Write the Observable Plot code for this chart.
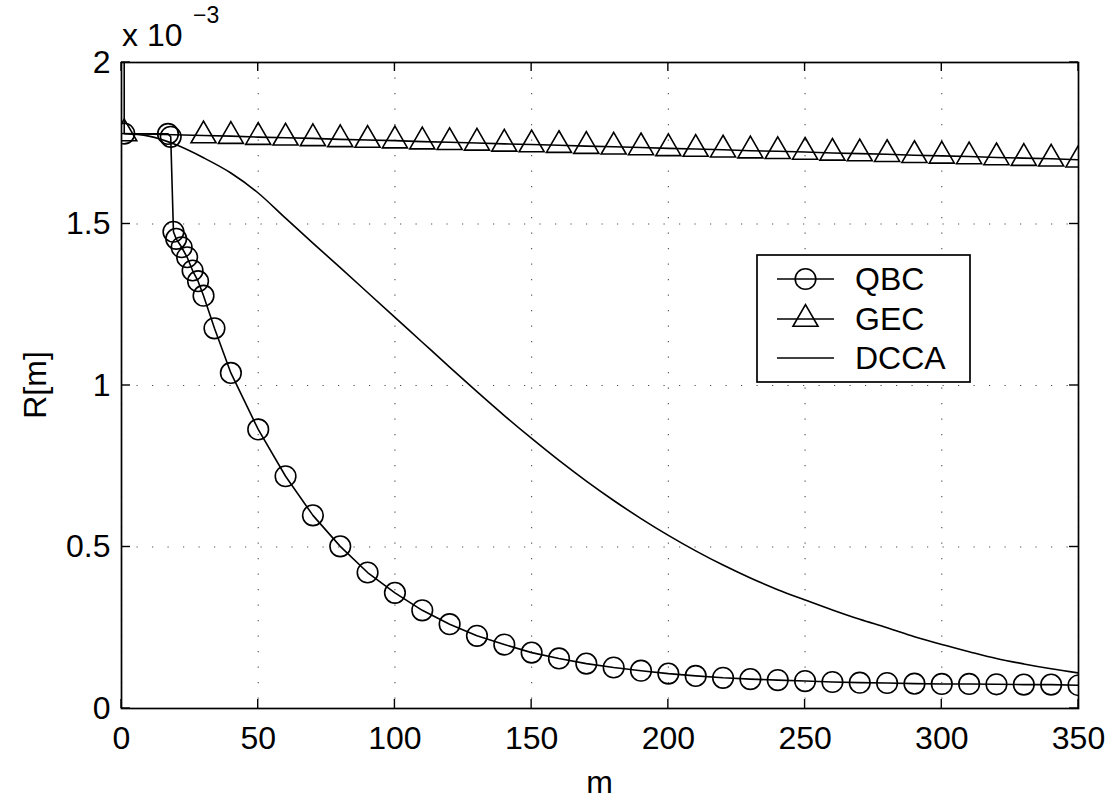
<!DOCTYPE html>
<html>
<head>
<meta charset="utf-8">
<script src="https://cdn.jsdelivr.net/npm/d3@7"></script>
<script src="https://cdn.jsdelivr.net/npm/@observablehq/plot@0.6"></script>
<style>
  html, body { margin: 0; padding: 0; background: #fff; }
  #chart { width: 1115px; height: 801px; overflow: hidden; }
</style>
</head>
<body>
<div id="chart"></div>
<script>
// ---- data (R values in units of 1e-3) ----
const qbcM = [0, 1, 17, 18, 19, 20, 22, 24, 26, 28, 30, 34, 40, 50, 60, 70, 80, 90, 100, 110, 120, 130, 140, 150, 160, 170, 180, 190, 200, 210, 220, 230, 240, 250, 260, 270, 280, 290, 300, 310, 320, 330, 340, 350];
const qbcR = [20, 1.780, 1.779, 1.770, 1.476, 1.454, 1.428, 1.397, 1.356, 1.323, 1.278, 1.177, 1.039, 0.864, 0.719, 0.598, 0.502, 0.421, 0.358, 0.304, 0.261, 0.225, 0.198, 0.173, 0.155, 0.139, 0.127, 0.117, 0.108, 0.101, 0.095, 0.091, 0.088, 0.085, 0.082, 0.080, 0.079, 0.077, 0.076, 0.076, 0.075, 0.074, 0.074, 0.072];

const gecM = [1, 30, 40, 50, 60, 70, 80, 90, 100, 110, 120, 130, 140, 150, 160, 170, 180, 190, 200, 210, 220, 230, 240, 250, 260, 270, 280, 290, 300, 310, 320, 330, 340, 350];
const gecR = [1.780, 1.774, 1.772, 1.769, 1.767, 1.765, 1.762, 1.760, 1.758, 1.755, 1.753, 1.751, 1.748, 1.746, 1.744, 1.741, 1.739, 1.737, 1.734, 1.732, 1.730, 1.727, 1.725, 1.723, 1.720, 1.718, 1.716, 1.713, 1.711, 1.709, 1.706, 1.704, 1.702, 1.699];

const dccaM = [0, 10, 20, 30, 40, 50, 60, 70, 80, 90, 100, 110, 120, 130, 140, 150, 160, 170, 180, 190, 200, 210, 220, 230, 240, 250, 260, 270, 280, 290, 300, 310, 320, 330, 340, 350];
const dccaR = [1.780, 1.772, 1.745, 1.705, 1.658, 1.596, 1.518, 1.441, 1.365, 1.288, 1.211, 1.134, 1.057, 0.981, 0.907, 0.836, 0.768, 0.704, 0.644, 0.588, 0.536, 0.488, 0.444, 0.404, 0.368, 0.336, 0.305, 0.276, 0.250, 0.222, 0.198, 0.176, 0.155, 0.138, 0.123, 0.110];

const xTicks = [0, 50, 100, 150, 200, 250, 300, 350];
const yTicks = [0, 0.5, 1, 1.5, 2];
const yTickLabels = ["0", "0.5", "1", "1.5", "2"];
const seriesNames = ["QBC", "GEC", "DCCA"];
const xLabel = "m";
const yLabel = "R[m]";
const exponentBase = "x 10";
const exponent = "\u22123";

const qbc = qbcM.map((m, i) => ({m, r: qbcR[i]}));
const gec = gecM.map((m, i) => ({m, r: gecR[i]}));
const dcca = dccaM.map((m, i) => ({m, r: dccaR[i]}));

const FONT = "'Liberation Sans', Arial, Helvetica, sans-serif";
const FS = 32;
const SW = 1.6;

const plot = Plot.plot({
  width: 1115,
  height: 801,
  marginLeft: 121,
  marginRight: 37,
  marginTop: 62,
  marginBottom: 93,
  style: {fontFamily: FONT, background: "#fff", color: "#000"},
  x: {domain: [0, 350], label: null},
  y: {domain: [0, 2], label: null},
  marks: [
    Plot.gridX(xTicks, {stroke: "#000", strokeOpacity: 0.7, strokeWidth: 1.1, strokeDasharray: "1.2,14.3"}),
    Plot.gridY(yTicks, {stroke: "#000", strokeOpacity: 0.7, strokeWidth: 1.1, strokeDasharray: "1.2,14.3"}),
    Plot.axisX(xTicks, {anchor: "bottom", tickSize: 0, tickPadding: 18, fontSize: FS, label: null, tickFormat: d => String(d)}),
    Plot.axisY(yTicks, {anchor: "left", tickSize: 0, tickPadding: 11, fontSize: FS, label: null, tickFormat: d => yTickLabels[yTicks.indexOf(d)]}),
    Plot.line(dcca, {x: "m", y: "r", stroke: "#000", strokeWidth: SW, curve: "monotone-x", clip: true}),
    Plot.line(gec, {x: "m", y: "r", stroke: "#000", strokeWidth: SW, clip: true}),
    Plot.dot(gec, {x: "m", y: "r", symbol: "triangle", r: 9.3, stroke: "#000", strokeWidth: SW, fill: "none", clip: true}),
    Plot.line(qbc, {x: "m", y: "r", stroke: "#000", strokeWidth: SW, clip: true}),
    Plot.dot(qbc, {x: "m", y: "r", symbol: "circle", r: 10.3, stroke: "#000", strokeWidth: SW, fill: "none", clip: true}),
    Plot.frame({stroke: "#000", strokeWidth: 1.7})
  ]
});

document.getElementById("chart").appendChild(plot);

// ---- decorations: inward ticks, axis titles, exponent, legend ----
const svg = d3.select(plot);
const xs = plot.scale("x"), ys = plot.scale("y");
const X = v => xs.apply(v), Y = v => ys.apply(v);
const x0 = X(0), x1 = X(350), y0 = Y(0), y1 = Y(2);
const TL = 9;
const g = svg.append("g").attr("stroke", "#000").attr("stroke-width", 1.4);
xTicks.forEach(t => {
  g.append("line").attr("x1", X(t)).attr("x2", X(t)).attr("y1", y0).attr("y2", y0 - TL);
  g.append("line").attr("x1", X(t)).attr("x2", X(t)).attr("y1", y1).attr("y2", y1 + TL);
});
yTicks.forEach(t => {
  g.append("line").attr("x1", x0).attr("x2", x0 + TL).attr("y1", Y(t)).attr("y2", Y(t));
  g.append("line").attr("x1", x1).attr("x2", x1 - TL).attr("y1", Y(t)).attr("y2", Y(t));
});

const tg = svg.append("g").attr("font-family", FONT).attr("fill", "#000").attr("text-anchor", "start");
tg.append("text").attr("x", (x0 + x1) / 2).attr("y", 793).attr("text-anchor", "middle").attr("font-size", FS).text(xLabel);
tg.append("text").attr("transform", `translate(46,${(y0 + y1) / 2}) rotate(-90)`).attr("text-anchor", "middle").attr("font-size", FS).text(yLabel);
tg.append("text").attr("x", 122).attr("y", 46).attr("text-anchor", "start").attr("font-size", FS).text(exponentBase);
tg.append("text").attr("x", 193).attr("y", 23).attr("text-anchor", "start").attr("font-size", 23).text(exponent);

// legend
const L = {x: 757, y: 255, w: 213, h: 127};
const lg = svg.append("g");
lg.append("rect").attr("x", L.x).attr("y", L.y).attr("width", L.w).attr("height", L.h)
  .attr("fill", "#fff").attr("stroke", "#000").attr("stroke-width", 1.7);
const rows = [279, 319, 358];
const syms = [d3.symbolCircle, d3.symbolTriangle, null];
const rs = [10.3, 9.3, 0];
rows.forEach((ry, i) => {
  lg.append("line").attr("x1", 777).attr("x2", 834).attr("y1", ry).attr("y2", ry).attr("stroke", "#000").attr("stroke-width", SW);
  if (syms[i]) {
    lg.append("path").attr("d", d3.symbol(syms[i], Math.PI * rs[i] * rs[i])())
      .attr("transform", `translate(805.5,${ry})`).attr("fill", "none").attr("stroke", "#000").attr("stroke-width", SW);
  }
  lg.append("text").attr("x", 855).attr("y", ry + 11.3).attr("text-anchor", "start").attr("font-family", FONT).attr("font-size", FS).attr("fill", "#000").text(seriesNames[i]);
});
</script>
</body>
</html>
